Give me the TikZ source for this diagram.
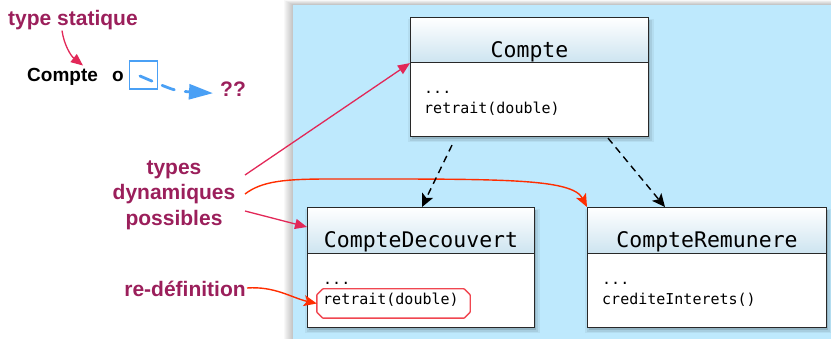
\documentclass[tikz,border=0pt]{standalone}
\usepackage{fontspec}
\setmainfont{Liberation Sans}
\newfontfamily\monofont{DejaVu Sans Mono}
\usetikzlibrary{arrows.meta,shadows}
\definecolor{bgblue}{RGB}{190,233,253}
\definecolor{lblmaroon}{RGB}{155,31,91}
\definecolor{crim}{RGB}{226,40,88}
\definecolor{redor}{RGB}{255,45,0}
\definecolor{skyb}{RGB}{74,160,245}
\definecolor{hdrbot}{RGB}{205,228,240}
\definecolor{octred}{RGB}{240,70,80}
\definecolor{boxline}{RGB}{40,40,40}
\begin{document}
\begin{tikzpicture}[x=1pt,y=-1pt,
  sh/.style={general shadow={shadow xshift=1.5pt,shadow yshift=-3pt,shadow scale=1.035,fill=black,opacity=0.05},
             general shadow={shadow xshift=1.5pt,shadow yshift=-3pt,shadow scale=1.018,fill=black,opacity=0.07},
             general shadow={shadow xshift=1pt,shadow yshift=-2pt,fill=black,opacity=0.12}},
  classbox/.style={draw=boxline, line width=1.1pt, fill=white, inner sep=0pt, anchor=north west, sh},
  hdr/.style={draw=boxline, line width=1.1pt, top color=white, bottom color=hdrbot, inner sep=0pt, anchor=north west},
  ttl/.style={font=\monofont\fontsize{21.5}{24}\selectfont, inner sep=0pt, anchor=base},
  mem/.style={font=\monofont\fontsize{15}{18}\selectfont, inner sep=0pt, anchor=base west},
  lbl/.style={font=\bfseries\fontsize{21}{25}\selectfont, text=lblmaroon, inner sep=0pt},
  blk/.style={font=\bfseries\fontsize{19}{22}\selectfont, text=black, inner sep=0pt, anchor=base west},
  crimarrow/.style={draw=crim, line width=1.3pt, -{Triangle[length=12pt,width=10pt]}},
  redarrow/.style={draw=redor, line width=1.4pt, -{Stealth[length=13pt,width=11pt,inset=3pt]}},
  inh/.style={draw=black, line width=1.4pt, dash pattern=on 7pt off 5pt, -{Stealth[length=13pt,width=12pt,inset=3pt]}},
  octline/.style={draw=octred, line width=1.4pt, rounded corners=0.6pt},
]
\useasboundingbox (0,0) rectangle (831,339);
% panel with soft shadow
\foreach \i in {1,...,9} \fill[black,opacity=0.028] ({293-\i},{5-0.55*\i}) rectangle (840,345);
\fill[bgblue] (293,5) rectangle (840,345);

% class Compte
\node[classbox, minimum width=238pt, minimum height=119pt] (c) at (410,17) {};
\node[hdr, minimum width=238pt, minimum height=45pt] (ch) at (c.north west) {};
\node[ttl] (ct) at ([yshift=6pt]ch.south) {Compte};
\node[mem] (c1) at ([xshift=14pt,yshift=-30pt]ch.south west) {...};
\node[mem] (c2) at ([xshift=14pt,yshift=-50pt]ch.south west) {retrait(double)};

% class CompteDecouvert
\node[classbox, minimum width=227pt, minimum height=120pt] (d) at (307,207) {};
\node[hdr, minimum width=227pt, minimum height=46pt] (dh) at (d.north west) {};
\node[ttl] (dt) at ([yshift=6.5pt]dh.south) {CompteDecouvert};
\node[mem] (d1) at ([xshift=16pt,yshift=-30pt]dh.south west) {...};
\node[mem] (d2) at ([xshift=16pt,yshift=-50pt]dh.south west) {retrait(double)};
% octagonal highlight around the redefined method
\node[inner sep=0pt, minimum width=153pt, minimum height=29pt] (oc) at (393.5,303.5) {};
\draw[octline] ([xshift=6pt]oc.north west) -- ([xshift=-6pt]oc.north east) -- ([yshift=-6pt]oc.north east)
  -- ([yshift=6pt]oc.south east) -- ([xshift=-6pt]oc.south east) -- ([xshift=6pt]oc.south west)
  -- ([yshift=6pt]oc.south west) -- ([yshift=-6pt]oc.north west) -- cycle;

% class CompteRemunere
\node[classbox, minimum width=239pt, minimum height=120pt] (r) at (587,207) {};
\node[hdr, minimum width=239pt, minimum height=46pt] (rh) at (r.north west) {};
\node[ttl] (rt) at ([yshift=7pt]rh.south) {CompteRemunere};
\node[mem] (r1) at ([xshift=15pt,yshift=-30pt]rh.south west) {...};
\node[mem] (r2) at ([xshift=15pt,yshift=-50pt]rh.south west) {crediteInterets()};

% left side labels
\node[lbl, anchor=base west] (ts) at (8,26) {type statique};
\node[blk] (cmp) at (27,82) {Compte};
\node[blk] (ov) at (112,82) {o};
\node[draw=skyb, line width=1.5pt, minimum width=28pt, minimum height=28pt, inner sep=0pt] (ptr) at (143.5,75) {};
\node[lbl, anchor=base west] (qq) at (220,97) {??};
\node[lbl, anchor=base] (ty) at (174,175) {types};
\node[lbl, anchor=base] (dy) at (174,200) {dynamiques};
\node[lbl, anchor=base] (po) at (174,226) {possibles};
\node[lbl, anchor=base] (rd) at (185,297) {re-définition};

\coordinate (tS) at (245,175);
\coordinate (dS) at (245,194);
\coordinate (pS) at (245,211);
\coordinate (rS) at (247,288);

% connectors
\draw[crimarrow] ([xshift=54pt]ts.south west) .. controls (64,45) and (71,56) .. ([xshift=56pt,yshift=3pt]cmp.north west);
\draw[skyb, line width=2.8pt, line cap=round, dash pattern=on 13pt off 11pt, -{Triangle[length=24pt,width=15pt]}]
  ([xshift=-3.5pt,yshift=-1pt]ptr.center) .. controls (175,91) .. ([xshift=-7pt,yshift=-3.5pt]qq.west);
\draw[crimarrow] (tS) -- (ch.south west);
\draw[crimarrow] (pS) -- ([yshift=-20pt]d.north west);
\draw[redarrow] (dS) .. controls (262,181) and (285,179) .. (330,179) .. controls (500,179) and (572,178) .. (r.north west);
\draw[redarrow] (rS) .. controls (275,286) and (292,298) .. (oc.west);
\draw[inh] ([xshift=42pt,yshift=-8pt]c.south west) -- ([xshift=115pt]d.north west);
\draw[inh] ([xshift=198pt,yshift=-1pt]c.south west) -- ([xshift=78pt]r.north west);
\end{tikzpicture}
\end{document}
